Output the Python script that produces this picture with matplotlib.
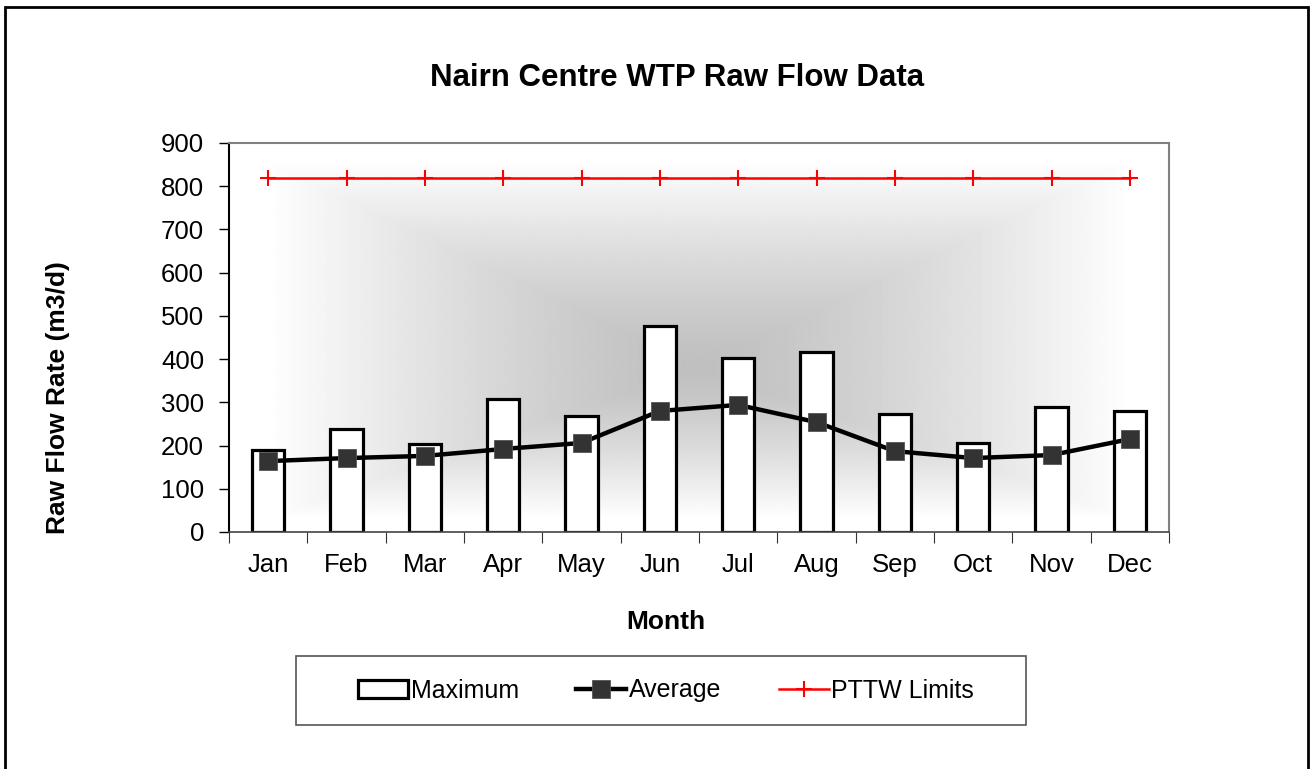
import numpy as np
import matplotlib.pyplot as plt
from matplotlib.patches import Rectangle

plt.rcParams['font.family'] = ['Liberation Sans', 'DejaVu Sans']

months = ['Jan', 'Feb', 'Mar', 'Apr', 'May', 'Jun', 'Jul', 'Aug', 'Sep', 'Oct', 'Nov', 'Dec']
maximum = [190, 239, 204, 308, 269, 477, 403, 416, 274, 207, 290, 279]
average = [164, 171, 176, 192, 206, 280, 294, 254, 187, 171, 178, 215]
pttw = [820] * 12

W, H = 1311, 769
fig = plt.figure(figsize=(W / 100, H / 100), dpi=100)
ax = fig.add_axes([0.1747, 0.3082, 0.717, 0.5059])

# outer chart border (bottom edge cut off in the original)
fig.patches.append(Rectangle((5 / W, -0.05), 1303 / W, 1.05 - 7 / H,
                             transform=fig.transFigure, fill=False,
                             edgecolor='black', linewidth=2, zorder=0))

# gray "from centre" gradient behind the plot
cx, cy = 0.5, 0.42
gx, gy = np.meshgrid(np.linspace(0, 1, 600), np.linspace(0, 1, 400))
dx = np.where(gx < cx, (cx - gx) / cx, (gx - cx) / (1 - cx))
dy = np.where(gy < cy, (cy - gy) / cy, (gy - cy) / (1 - cy))
t = np.clip(np.maximum(dx, dy) / 0.92, 0, 1)
shade = 0.75 + 0.25 * t ** 1.3
ax.imshow(shade, cmap='gray', vmin=0, vmax=1, origin='lower', aspect='auto',
          extent=[-0.5, 11.5, 0, 900], zorder=0, interpolation='bilinear')

x = np.arange(len(months))
bars = ax.bar(x, maximum, width=0.41, color='white', edgecolor='black', linewidth=2.3,
              zorder=2, label='Maximum')
avg_line, = ax.plot(x, average, color='black', linewidth=3.2, marker='s', markersize=13,
                    markerfacecolor='#333333', markeredgecolor='#555555', markeredgewidth=0.6,
                    zorder=3, label='Average')
lim_line, = ax.plot(x, pttw, color='#ff0000', linewidth=1.8, marker='+', markersize=12,
                    markeredgewidth=1.5, zorder=3, label='PTTW Limits')

ax.set_xlim(-0.5, 11.5)
ax.set_ylim(0, 900)
ax.set_yticks(np.arange(0, 901, 100))
ax.set_xticks(x)
ax.set_xticklabels(months)
ax.set_xticks(np.arange(-0.5, 12, 1), minor=True)
ax.tick_params(axis='x', which='major', length=0, pad=15, labelsize=18.5)
ax.tick_params(axis='x', which='minor', length=8, width=0.8, color='#333333', direction='out')
ax.tick_params(axis='y', length=7, width=1, direction='out', labelsize=18.5, pad=11)

for side in ['top', 'right']:
    ax.spines[side].set_color('#808080')
    ax.spines[side].set_linewidth(1.5)
ax.spines['left'].set_color('black')
ax.spines['left'].set_linewidth(1.5)
ax.spines['bottom'].set_color('#444444')
ax.spines['bottom'].set_linewidth(1.2)

fig.text(677 / W, 1 - 78 / H, 'Nairn Centre WTP Raw Flow Data', fontsize=22.5,
         fontweight='bold', ha='center', va='center')
fig.text(666 / W, 1 - 622 / H, 'Month', fontsize=19, fontweight='bold',
         ha='center', va='center')
fig.text(58 / W, 1 - 398 / H, 'Raw Flow Rate (m3/d)', fontsize=19, fontweight='bold',
         ha='center', va='center', rotation=90)

# legend box drawn separately so it matches the original width
fig.patches.append(Rectangle((296 / W, 1 - 725 / H), 730 / W, 69 / H,
                             transform=fig.transFigure, facecolor='white',
                             edgecolor='#555555', linewidth=1.2, zorder=1))
leg = fig.legend([bars, avg_line, lim_line], ['Maximum', 'Average', 'PTTW Limits'],
                 loc='center', bbox_to_anchor=(666 / W, 1 - 690.5 / H), ncol=3, fontsize=18,
                 frameon=False, columnspacing=2.3, handlelength=2.0, handletextpad=0.1,
                 borderaxespad=0)

fig.savefig('out.png', dpi=100)
